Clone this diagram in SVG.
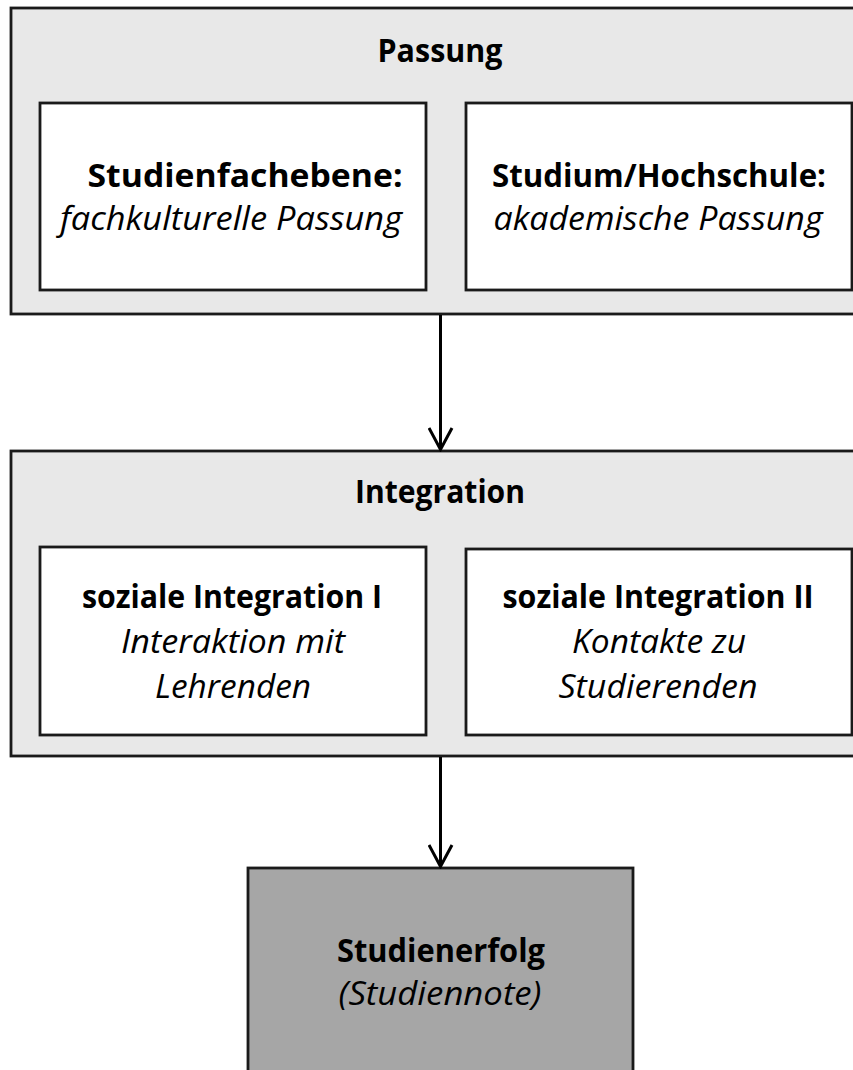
<svg xmlns="http://www.w3.org/2000/svg" width="853" height="1070" viewBox="0 0 853 1070">
<defs>
<style>
.outer{fill:#e8e8e8;stroke:#1a1a1a;stroke-width:2.8}
.inner{fill:#ffffff;stroke:#1a1a1a;stroke-width:2.8}
.result{fill:#a6a6a6;stroke:#1a1a1a;stroke-width:2.8}
text{font-family:"Open Sans","Liberation Sans",sans-serif;font-size:32px;fill:#000;text-anchor:middle}
.b{font-weight:700}
.i{font-style:italic}
.conn{stroke:#000;stroke-width:3;fill:none}
</style>
<marker id="arr" markerWidth="26" markerHeight="26" viewBox="0 0 26 26" refX="24" refY="13" orient="auto" markerUnits="userSpaceOnUse">
<path d="M2,1.5 L23.5,13 L2,24.5" fill="none" stroke="#000" stroke-width="3"/>
</marker>
</defs>
<g id="passung">
<rect class="outer" x="11" y="8" width="870" height="306"/>
<text class="b" x="440" y="62" textLength="125" lengthAdjust="spacingAndGlyphs">Passung</text>
</g>
<g id="studienfachebene">
<rect class="inner" x="40" y="103" width="386" height="187"/>
<text class="b" x="245" y="187" textLength="315" lengthAdjust="spacingAndGlyphs">Studienfachebene:</text>
<text class="i" x="231" y="230" textLength="342" lengthAdjust="spacingAndGlyphs">fachkulturelle Passung</text>
</g>
<g id="hochschule">
<rect class="inner" x="466" y="103" width="386" height="187"/>
<text class="b" x="659" y="187" textLength="334" lengthAdjust="spacingAndGlyphs">Studium/Hochschule:</text>
<text class="i" x="658" y="230" textLength="329" lengthAdjust="spacingAndGlyphs">akademische Passung</text>
</g>
<g id="integration">
<rect class="outer" x="11" y="451" width="870" height="305"/>
<text class="b" x="440" y="503" textLength="170" lengthAdjust="spacingAndGlyphs">Integration</text>
</g>
<g id="sozial1">
<rect class="inner" x="40" y="547" width="386" height="188"/>
<text class="b" x="232" y="608" textLength="300" lengthAdjust="spacingAndGlyphs">soziale Integration I</text>
<text class="i" x="233" y="653" textLength="224" lengthAdjust="spacingAndGlyphs">Interaktion mit</text>
<text class="i" x="233" y="698" textLength="156" lengthAdjust="spacingAndGlyphs">Lehrenden</text>
</g>
<g id="sozial2">
<rect class="inner" x="466" y="549" width="386" height="186"/>
<text class="b" x="658" y="608" textLength="311" lengthAdjust="spacingAndGlyphs">soziale Integration II</text>
<text class="i" x="659" y="653" textLength="174" lengthAdjust="spacingAndGlyphs">Kontakte zu</text>
<text class="i" x="658" y="698" textLength="199" lengthAdjust="spacingAndGlyphs">Studierenden</text>
</g>
<g id="studienerfolg">
<rect class="result" x="248" y="868" width="385" height="220"/>
<text class="b" x="441" y="962" textLength="208" lengthAdjust="spacingAndGlyphs">Studienerfolg</text>
<text class="i" x="440" y="1005" textLength="203" lengthAdjust="spacingAndGlyphs">(Studiennote)</text>
</g>
<g id="connectors">
<line class="conn" x1="440.5" y1="315" x2="440.5" y2="450" marker-end="url(#arr)"/>
<line class="conn" x1="440.5" y1="757" x2="440.5" y2="867" marker-end="url(#arr)"/>
</g>
</svg>
